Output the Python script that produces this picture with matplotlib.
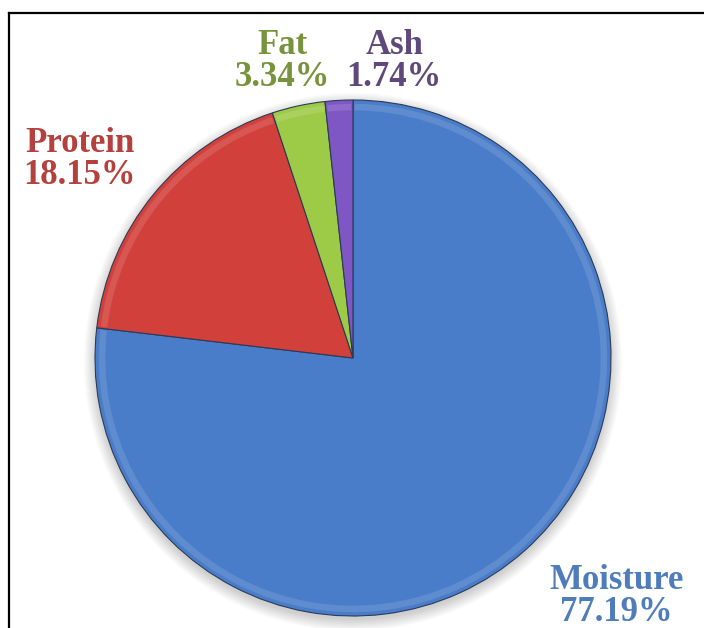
import matplotlib
matplotlib.use("Agg")
import matplotlib.pyplot as plt
from matplotlib.lines import Line2D
from matplotlib.patches import Circle, Wedge

# Composition values (%)
categories = ["Moisture", "Protein", "Fat", "Ash"]
values = [77.19, 18.15, 3.34, 1.74]
labels = ["Moisture\n77.19%", "Protein\n18.15%", "Fat\n3.34%", "Ash\n1.74%"]

wedge_colors = ["#4A7DC9", "#D2403C", "#9DCB48", "#7E57C4"]
text_colors = ["#4F7DBB", "#B5413E", "#77933C", "#5F497A"]
# label anchor positions in pie units (radius = 1)
label_pos = [(1.02, -0.925), (-1.06, 0.77), (-0.275, 1.15), (0.16, 1.15)]

fig = plt.figure(figsize=(7.04, 6.28), dpi=100)
fig.patch.set_facecolor("white")

cx, cy, r = 353 / 704, 1 - 358 / 628, 258
ax = fig.add_axes([cx - r / 704, cy - r / 628, 2 * r / 704, 2 * r / 628])

# soft shadow under the pie
for i in range(8):
    ax.add_patch(Circle((0.0, -0.015), 1.0 + 0.006 * i, color="black",
                        alpha=0.025, zorder=0, lw=0, clip_on=False))

wedges, _ = ax.pie(values, colors=wedge_colors, startangle=90,
                   counterclock=False, radius=1.0,
                   wedgeprops=dict(edgecolor="#2B3A55", linewidth=0.8))
for w in wedges:
    w.set_zorder(2)
    w.set_clip_on(False)

# light bevel along the rim
for w in wedges:
    ax.add_patch(Wedge((0, 0), 0.985, w.theta1 + 0.4, w.theta2 - 0.4,
                       width=0.025, facecolor="white", alpha=0.12,
                       lw=0, zorder=3, clip_on=False))

ax.set_xlim(-1, 1)
ax.set_ylim(-1, 1)
ax.set_aspect("equal")
ax.axis("off")

for (x, y), lab, col in zip(label_pos, labels, text_colors):
    ax.text(x, y, lab, ha="center", va="center", color=col,
            fontsize=25, fontweight="bold", family="Liberation Serif",
            linespacing=0.95, clip_on=False)

# frame lines (top and left)
fig.add_artist(Line2D([9 / 704, 1.0], [1 - 13 / 628, 1 - 13 / 628],
                      transform=fig.transFigure, color="black", lw=1.6))
fig.add_artist(Line2D([9 / 704, 9 / 704], [0.0, 1 - 13 / 628],
                      transform=fig.transFigure, color="black", lw=1.6))

fig.savefig("out.png", dpi=100, facecolor="white")
